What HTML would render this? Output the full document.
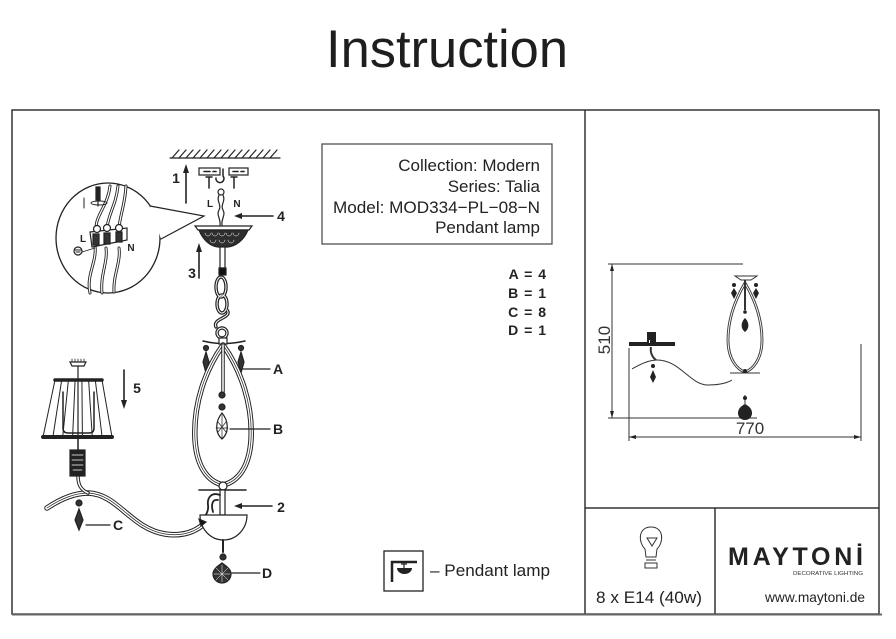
<!DOCTYPE html>
<html><head><meta charset="utf-8"><style>
html,body{margin:0;padding:0;background:#fff;}
svg{display:block;}
text{font-family:"Liberation Sans",Arial,sans-serif;}
</style></head><body>
<svg width="896" height="639" viewBox="0 0 896 639" xmlns="http://www.w3.org/2000/svg">
<rect width="896" height="639" fill="#fff"/>
<text x="447" y="67" font-size="53" text-anchor="middle" fill="#1e1e1e" textLength="242" lengthAdjust="spacingAndGlyphs">Instruction</text>

<!-- frame -->
<g fill="none" stroke="#333" stroke-width="1.5">
<rect x="12" y="110" width="867" height="504"/>
<line x1="585" y1="110" x2="585" y2="614"/>
<line x1="585" y1="508" x2="879" y2="508"/>
<line x1="715" y1="508" x2="715" y2="614"/>
</g>
<line x1="12" y1="614.5" x2="882" y2="614.5" stroke="#666" stroke-width="2"/>

<!-- info box -->
<rect x="322" y="144" width="230" height="100" fill="none" stroke="#444" stroke-width="1.2"/>
<g font-size="17" fill="#222" text-anchor="end">
<text x="540" y="171">Collection: Modern</text>
<text x="540" y="192">Series: Talia</text>
<text x="540" y="213" textLength="207" lengthAdjust="spacingAndGlyphs">Model: MOD334−PL−08−N</text>
<text x="540" y="233">Pendant lamp</text>
</g>
<g font-size="14" font-weight="bold" fill="#222" text-anchor="end" letter-spacing="1">
<text x="547" y="279">A = 4</text>
<text x="547" y="298">B = 1</text>
<text x="547" y="317">C = 8</text>
<text x="547" y="335">D = 1</text>
</g>

<!-- ===== Left diagram ===== -->
<g stroke="#222" fill="none" stroke-width="1.2" stroke-linecap="round">
<!-- ceiling -->
<line x1="170" y1="158" x2="280" y2="158"/>
<path d="M172,158l7,-8M179,158l7,-8M186,158l7,-8M193,158l7,-8M200,158l7,-8M207,158l7,-8M214,158l7,-8M221,158l7,-8M228,158l7,-8M235,158l7,-8M242,158l7,-8M249,158l7,-8M256,158l7,-8M263,158l7,-8M270,158l7,-8"/>
<!-- arrow 1 -->
<line x1="186" y1="203" x2="186" y2="171" stroke-width="1.6"/>
<!-- bracket -->
<rect x="199" y="168" width="21" height="7" fill="#fff"/>
<rect x="229" y="168" width="19" height="7" fill="#fff"/>
<path d="M204,171.5h6M213,171.5h3M233,171.5h5M241,171.5h3" stroke-width="1.6"/>
<path d="M223,169v7a4,4 0 1 1 -7,2" stroke-width="1.5"/>
<path d="M206,177h6M209,177v11M231,177h6M234,177v11" stroke-width="1.5"/>
<!-- wires -->
<circle cx="221" cy="192" r="3"/>
<path d="M219,195c-3,6 3,10 0,15c-3,5 2,9 1,15M223,195c3,6 -3,10 0,15c3,5 -2,9 -1,15"/>
<!-- arrow 4 -->
<line x1="273" y1="216" x2="240" y2="216" stroke-width="1.6"/>
<!-- canopy -->
<polygon points="195,226 252,226 249,230 198,230" fill="#fff"/>
<path d="M199,230C203,240 210,246 218,247L228,247C236,246 244,240 248,230Z" fill="#2e2e2e"/>
<path d="M205,233a3,3 0 0 0 6,0M212,233a3,3 0 0 0 6,0M219,233a3,3 0 0 0 6,0M226,233a3,3 0 0 0 6,0M233,233a3,3 0 0 0 6,0M210,240a3,3 0 0 0 6,0M219,240a3,3 0 0 0 6,0M228,240a3,3 0 0 0 6,0" stroke="#fff" stroke-width="0.5"/>
<rect x="220" y="247" width="5" height="21" fill="#fff"/>
<rect x="219" y="268" width="7" height="7" fill="#111"/>
<!-- arrow 3 -->
<line x1="199" y1="278" x2="199" y2="250" stroke-width="1.6"/>
<!-- chain -->
<g stroke-width="3.4"><ellipse cx="221" cy="287" rx="5" ry="10"/><ellipse cx="222" cy="304" rx="5" ry="9"/><path d="M227,310C233,318 212,318 216,327"/><circle cx="222" cy="333" r="5"/></g>
<g stroke="#fff" stroke-width="1"><ellipse cx="221" cy="287" rx="5" ry="10"/><ellipse cx="222" cy="304" rx="5" ry="9"/><path d="M227,310C233,318 212,318 216,327"/><circle cx="222" cy="333" r="5"/></g>
<!-- cross arm -->
<path d="M203,341Q223,346 245,341" stroke-width="1.5"/>
<rect x="219" y="338" width="8" height="6" fill="#fff"/>
<!-- A crystals -->
<circle cx="206" cy="348" r="2.5" fill="#333"/><circle cx="241" cy="348" r="2.5" fill="#333"/>
<path d="M206,352L203,362L206,373L209,362Z M241,352L238,362L241,373L244,362Z" fill="#333"/>
<line x1="243" y1="369" x2="270" y2="369"/>
<!-- teardrop loop -->
<path d="M223,345C205,370 193,405 195,440C197,470 210,482 223,485C236,482 249,470 251,440C253,405 241,370 223,345" stroke-width="5.5"/>
<path d="M223,345C205,370 193,405 195,440C197,470 210,482 223,485C236,482 249,470 251,440C253,405 241,370 223,345" stroke="#fff" stroke-width="3.5"/>
<path d="M223,345C205,370 193,405 195,440C197,470 210,482 223,485C236,482 249,470 251,440C253,405 241,370 223,345" stroke-width="0.7"/>
<!-- inner stem -->
<line x1="223" y1="345" x2="223" y2="392" stroke-width="3.5"/>
<line x1="223" y1="345" x2="223" y2="392" stroke="#fff" stroke-width="1.5"/>
<circle cx="222" cy="395" r="3" fill="#333"/><circle cx="222" cy="407" r="3" fill="#333"/>
<path d="M222,413C216,420 214,432 222,439C230,432 228,420 222,413Z" fill="#fff"/>
<path d="M218,422L226,432M226,422L218,432M222,415V438M216,428H228" stroke-width="0.7"/>
<line x1="230" y1="429" x2="270" y2="429"/>
<!-- bottom ring / bar -->
<circle cx="223" cy="486" r="4" fill="#fff"/>
<line x1="199" y1="490" x2="246" y2="490" stroke-width="1.6"/>
<rect x="220" y="490" width="5" height="25" fill="#fff"/>
<path d="M220,495C212,492 207,497 208,505C209,512 205,516 202,520M218,500C212,499 211,505 213,512" stroke-width="1.8"/>
<!-- arrow 2 -->
<line x1="272" y1="506" x2="240" y2="506" stroke-width="1.6"/>
<!-- arm -->
<path d="M47,508C62,498 75,493 88,493C118,494 130,528 165,534C185,537 198,530 206,522" stroke-width="5.5"/>
<path d="M47,508C62,498 75,493 88,493C118,494 130,528 165,534C185,537 198,530 206,522" stroke="#fff" stroke-width="3.5"/>
<path d="M47,508C62,498 75,493 88,493C118,494 130,528 165,534C185,537 198,530 206,522" stroke-width="0.7"/>
<path d="M78,476C78,485 81,490 88,493" stroke-width="3.5"/>
<path d="M78,476C78,485 81,490 88,493" stroke="#fff" stroke-width="1.5"/>
<!-- bowl -->
<path d="M200,515H247A23.5,25 0 0 1 200,515Z" fill="#fff"/>
<polygon points="199,519 206,522 201,526" fill="#111"/>
<line x1="223" y1="540" x2="223" y2="552" stroke-width="2"/>
<circle cx="223" cy="557" r="3" fill="#333"/>
<path d="M222,563C226,566 231,569 231,574C231,579 227,583 222,583C217,583 213,579 213,574C213,569 218,566 222,563Z" fill="#333"/>
<path d="M216,568L228,580M216,580L228,568M214,574H230M222,565V582" stroke="#fff" stroke-width="0.5"/>
<line x1="232" y1="573" x2="260" y2="573"/>
<!-- C crystal -->
<circle cx="79" cy="503" r="3" fill="#333"/>
<path d="M79,509L75,520L79,530L83,520Z" fill="#333"/>
<line x1="86" y1="525" x2="110" y2="525"/>
<!-- socket -->
<rect x="70" y="450" width="15" height="26" fill="#222"/>
<path d="M72,455h11M72,460h11M72,465h11M73,470h9" stroke="#fff" stroke-width="0.7"/>
<line x1="78" y1="437" x2="78" y2="450" stroke-width="1.5"/>
<!-- shade -->
<path d="M70,362h16l-2,4h-12z" fill="#fff"/>
<path d="M72,362v-3M75,362v-3M78,362v-3M81,362v-3M84,362v-3" stroke-width="0.8"/>
<line x1="78" y1="366" x2="78" y2="437"/>
<path d="M55,380L43,437M102,380L112,437M61.7,380L52.9,437M68.4,380L62.7,437M75.1,380L72.6,437M81.9,380L82.4,437M88.6,380L92.3,437M95.3,380L102.1,437" stroke-width="1"/>
<path d="M63,392V428Q63,433 68,433H89Q94,433 94,428V392" stroke-width="1.5"/>
<line x1="55" y1="380" x2="102" y2="380" stroke-width="3.5"/>
<line x1="43" y1="437" x2="112" y2="437" stroke-width="4"/>
<!-- arrow 5 -->
<line x1="124" y1="370" x2="124" y2="402" stroke-width="1.6"/>
<!-- magnifier -->
<ellipse cx="108" cy="238" rx="52" ry="55" fill="#fff" stroke-width="1.3"/>
<polygon points="150,206 204,216 161,239" fill="#fff" stroke="none"/>
<path d="M150,206L204,216L161,239" stroke-width="1.2"/>
<!-- inside magnifier -->
<g stroke-width="3"><path d="M110,186C108,205 96,215 96,228M118,186C116,205 108,215 107,228M126,186C125,205 120,215 119,228M95,246C97,262 86,275 90,293M106,248C108,262 100,275 102,293M119,248C121,262 113,275 114,292"/></g>
<g stroke="#fff" stroke-width="1.2"><path d="M110,186C108,205 96,215 96,228M118,186C116,205 108,215 107,228M126,186C125,205 120,215 119,228M95,246C97,262 86,275 90,293M106,248C108,262 100,275 102,293M119,248C121,262 113,275 114,292"/></g>
<path d="M90,232L127,228L127,240L92,247Z" fill="#fff"/>
<path d="M93,234h6v11h-6zM104,233h6v11h-6zM116,232h6v10h-6z" fill="#333"/>
<circle cx="97" cy="229" r="3.5" fill="#fff"/><circle cx="107" cy="228" r="3.5" fill="#fff"/><circle cx="119" cy="228" r="3.5" fill="#fff"/>
<rect x="96" y="187" width="4" height="13" fill="#222"/>
<line x1="98" y1="200" x2="98" y2="206"/>
<ellipse cx="99" cy="203" rx="8" ry="2" stroke-width="0.9"/>
<line x1="84" y1="198" x2="84" y2="208" stroke-width="1"/>
<circle cx="78" cy="251" r="4" fill="#fff"/>
<path d="M75,250h6M76,252h4M82,252L95,248" stroke-width="0.9"/>
</g>
<!-- arrowheads left -->
<g fill="#222">
<polygon points="186,164 183,173 189,173"/>
<polygon points="234,216 242,213 242,219"/>
<polygon points="199,243 196,252 202,252"/>
<polygon points="124,409 121,400 127,400"/>
<polygon points="234,506 242,503 242,509"/>
</g>
<g font-size="14" font-weight="bold" fill="#222" text-anchor="middle">
<text x="176" y="183">1</text>
<text x="281" y="221">4</text>
<text x="192" y="278">3</text>
<text x="137" y="393">5</text>
<text x="281" y="512">2</text>
<text x="278" y="374">A</text>
<text x="278" y="434">B</text>
<text x="118" y="530">C</text>
<text x="267" y="578">D</text>
</g>
<g font-size="10" font-weight="bold" fill="#222" text-anchor="middle">
<text x="210" y="207">L</text><text x="237" y="207">N</text>
<text x="83" y="242">L</text><text x="131" y="251">N</text>
</g>

<!-- ===== Right diagram ===== -->
<g stroke="#333" stroke-width="1" fill="none">
<line x1="608" y1="264" x2="743" y2="264"/>
<line x1="608" y1="418" x2="757" y2="418"/>
<line x1="612" y1="264" x2="612" y2="418"/>
<line x1="629" y1="437" x2="861" y2="437"/>
<line x1="629" y1="348" x2="629" y2="441"/>
<line x1="861" y1="344" x2="861" y2="441"/>
<path d="M632,369C642,363 650,360 657,360C680,360 690,385 708,385C720,385 727,383 732,380"/>
<path d="M651,347C650,352 652,357 656,360" stroke-width="2"/>
<path d="M735,276H757L751,280H741Z" fill="#fff"/>
<path d="M745,283C735,300 728,320 728,340C728,360 738,370 745,372C752,370 762,360 762,340C762,320 755,300 745,283" stroke-width="2.8"/>
<path d="M745,283C735,300 728,320 728,340C728,360 738,370 745,372C752,370 762,360 762,340C762,320 755,300 745,283" stroke="#fff" stroke-width="1"/>
<line x1="745" y1="280" x2="745" y2="310" stroke-width="2"/>
<line x1="730" y1="373" x2="760" y2="373"/>
<line x1="745" y1="395" x2="745" y2="404"/>
</g>
<g fill="#222">
<polygon points="612,264 610,271 614,271"/>
<polygon points="612,418 610,411 614,411"/>
<polygon points="629,437 636,435 636,439"/>
<polygon points="861,437 854,435 854,439"/>
<rect x="629" y="342" width="46" height="4"/>
<rect x="647" y="332" width="9" height="11"/>
<circle cx="653" cy="366" r="2"/>
<path d="M653,370L650,377L653,383L656,377Z"/>
<circle cx="734" cy="285" r="2"/><circle cx="756" cy="285" r="2"/>
<path d="M734,288L731,293L734,299L737,293Z M756,288L753,293L756,299L759,293Z"/>
<circle cx="745" cy="312" r="1.8"/>
<path d="M745,318C741,322 740,328 745,332C750,328 749,322 745,318Z"/>
<circle cx="745" cy="371" r="2"/>
<circle cx="745" cy="398" r="2"/>
<path d="M745,404C749,406 752,409 752,413C752,417 749,420 745,420C741,420 738,417 738,413C738,409 741,406 745,404Z"/>
</g>
<rect x="649" y="340" width="1" height="3" fill="#fff"/>
<g font-size="17" fill="#333" text-anchor="middle">
<text transform="translate(610,340) rotate(-90)">510</text>
<text x="750" y="434">770</text>
</g>

<!-- ===== Bottom right ===== -->
<g stroke="#333" stroke-width="1" fill="none">
<path d="M646,557L645,549C638,542 638,527 651,527C664,527 664,542 657,549L656,557Z"/>
<path d="M647,538H657L652,546Z"/>
<rect x="645" y="563" width="12" height="5"/>
<line x1="646" y1="560" x2="656" y2="560"/>
</g>
<text x="649" y="603" font-size="17" fill="#222" text-anchor="middle" textLength="106" lengthAdjust="spacingAndGlyphs">8 x E14 (40w)</text>
<text x="728" y="565" font-size="25" font-weight="bold" fill="#222" textLength="135" lengthAdjust="spacing">MAYTONİ</text>
<text x="793" y="575" font-size="5.5" fill="#333" textLength="70" lengthAdjust="spacingAndGlyphs">DECORATIVE LIGHTING</text>
<text x="765" y="602" font-size="14" fill="#222" textLength="100" lengthAdjust="spacingAndGlyphs">www.maytoni.de</text>

<!-- legend -->
<rect x="384" y="551" width="39" height="40" fill="none" stroke="#222" stroke-width="1.3"/>
<path d="M392,582V562H417" fill="none" stroke="#222" stroke-width="2.5"/>
<path d="M401,564H407M404,564V568" stroke="#222" stroke-width="1.2" fill="none"/>
<path d="M397,568H412A7.5,6 0 0 1 397,568Z" fill="#222"/>
<text x="430" y="576" font-size="17" fill="#222" textLength="120" lengthAdjust="spacingAndGlyphs">– Pendant lamp</text>
</svg>
</body></html>
